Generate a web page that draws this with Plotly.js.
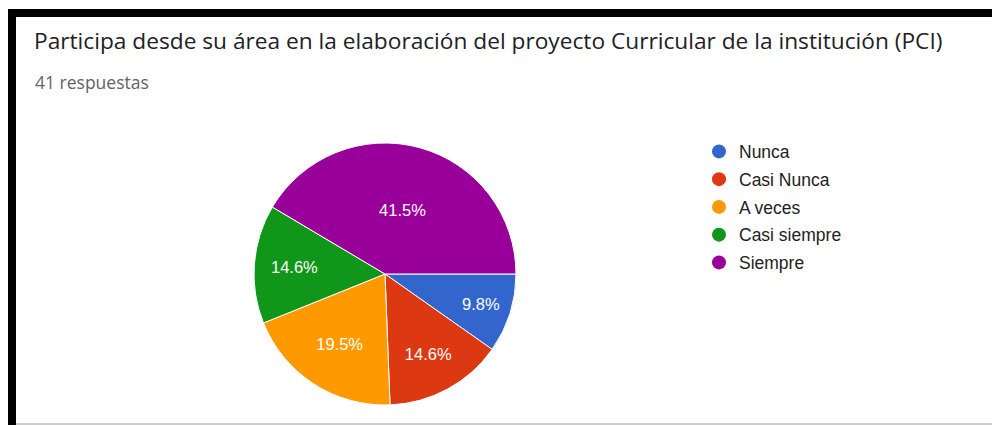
<!DOCTYPE html>
<html>
<head>
<meta charset="utf-8">
<script src="https://cdn.plot.ly/plotly-3.0.1.min.js"></script>
<style>
  html, body { margin: 0; padding: 0; background: #ffffff; }
  #chart { width: 992px; height: 425px; }
</style>
</head>
<body>
<div id="chart"></div>
<script>
// ---- data ----
const titleText = "Participa desde su área en la elaboración del proyecto Curricular de la institución (PCI)";
const subtitleText = "41 respuestas";
const categories = ["Nunca", "Casi Nunca", "A veces", "Casi siempre", "Siempre"];
const responses = [4, 6, 8, 6, 17];
const sliceColors = ["#3366cc", "#dc3912", "#ff9900", "#109618", "#990099"];

// ---- helpers for pixel -> paper conversion (margins are 0) ----
const W = 992, H = 425;
const px = x => x / W;
const py = y => 1 - y / H;

const cx = 385, cy = 274, R = 131;

const pie = {
  type: "pie",
  labels: categories,
  values: responses,
  sort: false,
  direction: "clockwise",
  rotation: 90,
  marker: { colors: sliceColors, line: { color: "#ffffff", width: 1 } },
  texttemplate: "%{percent:.1%}",
  textposition: "inside",
  insidetextorientation: "horizontal",
  textfont: { family: "Liberation Sans, Arial, sans-serif", size: 16.5, color: "#ffffff" },
  domain: { x: [px(cx - R), px(cx + R)], y: [py(cy + R), py(cy - R)] },
  showlegend: false,
  hoverinfo: "label+percent"
};

const legendTraces = categories.map((c, i) => ({
  type: "scatter",
  mode: "markers",
  x: [null],
  y: [null],
  name: c,
  legendgroup: "g" + i,
  marker: { symbol: "circle", size: 14, color: sliceColors[i] },
  showlegend: true,
  hoverinfo: "skip"
}));

const layout = {
  width: W,
  height: H,
  margin: { l: 0, r: 0, t: 0, b: 0 },
  paper_bgcolor: "#ffffff",
  plot_bgcolor: "#ffffff",
  xaxis: { visible: false },
  yaxis: { visible: false },
  title: {
    text: titleText,
    x: px(34),
    xanchor: "left",
    xref: "paper",
    y: py(41),
    yanchor: "middle",
    yref: "paper",
    font: { family: "Open Sans, sans-serif", size: 22.7, color: "#202124" }
  },
  annotations: [{
    text: subtitleText,
    xref: "paper", yref: "paper",
    x: px(33), y: py(82),
    xanchor: "left", yanchor: "middle",
    showarrow: false,
    font: { family: "Open Sans, sans-serif", size: 17.5, color: "#5f6368" }
  }],
  legend: {
    x: px(699),
    xanchor: "left",
    y: py(133.5),
    yanchor: "top",
    traceorder: "grouped",
    tracegroupgap: 2,
    font: { family: "Liberation Sans, Arial, sans-serif", size: 17.5, color: "#222222" },
    bgcolor: "rgba(0,0,0,0)",
    itemclick: false,
    itemdoubleclick: false
  },
  shapes: [
    { type: "rect", xref: "paper", yref: "paper", x0: px(8), x1: 1, y0: py(17), y1: py(9), fillcolor: "#000000", line: { width: 0 } },
    { type: "rect", xref: "paper", yref: "paper", x0: px(8), x1: px(16), y0: 0, y1: py(9), fillcolor: "#000000", line: { width: 0 } },
    { type: "line", xref: "paper", yref: "paper", x0: px(16), x1: 1, y0: py(424), y1: py(424), line: { color: "#bdbdbd", width: 1.5 } }
  ],
  showlegend: true
};

Plotly.newPlot("chart", [pie].concat(legendTraces), layout, { displayModeBar: false, staticPlot: false });
</script>
</body>
</html>
